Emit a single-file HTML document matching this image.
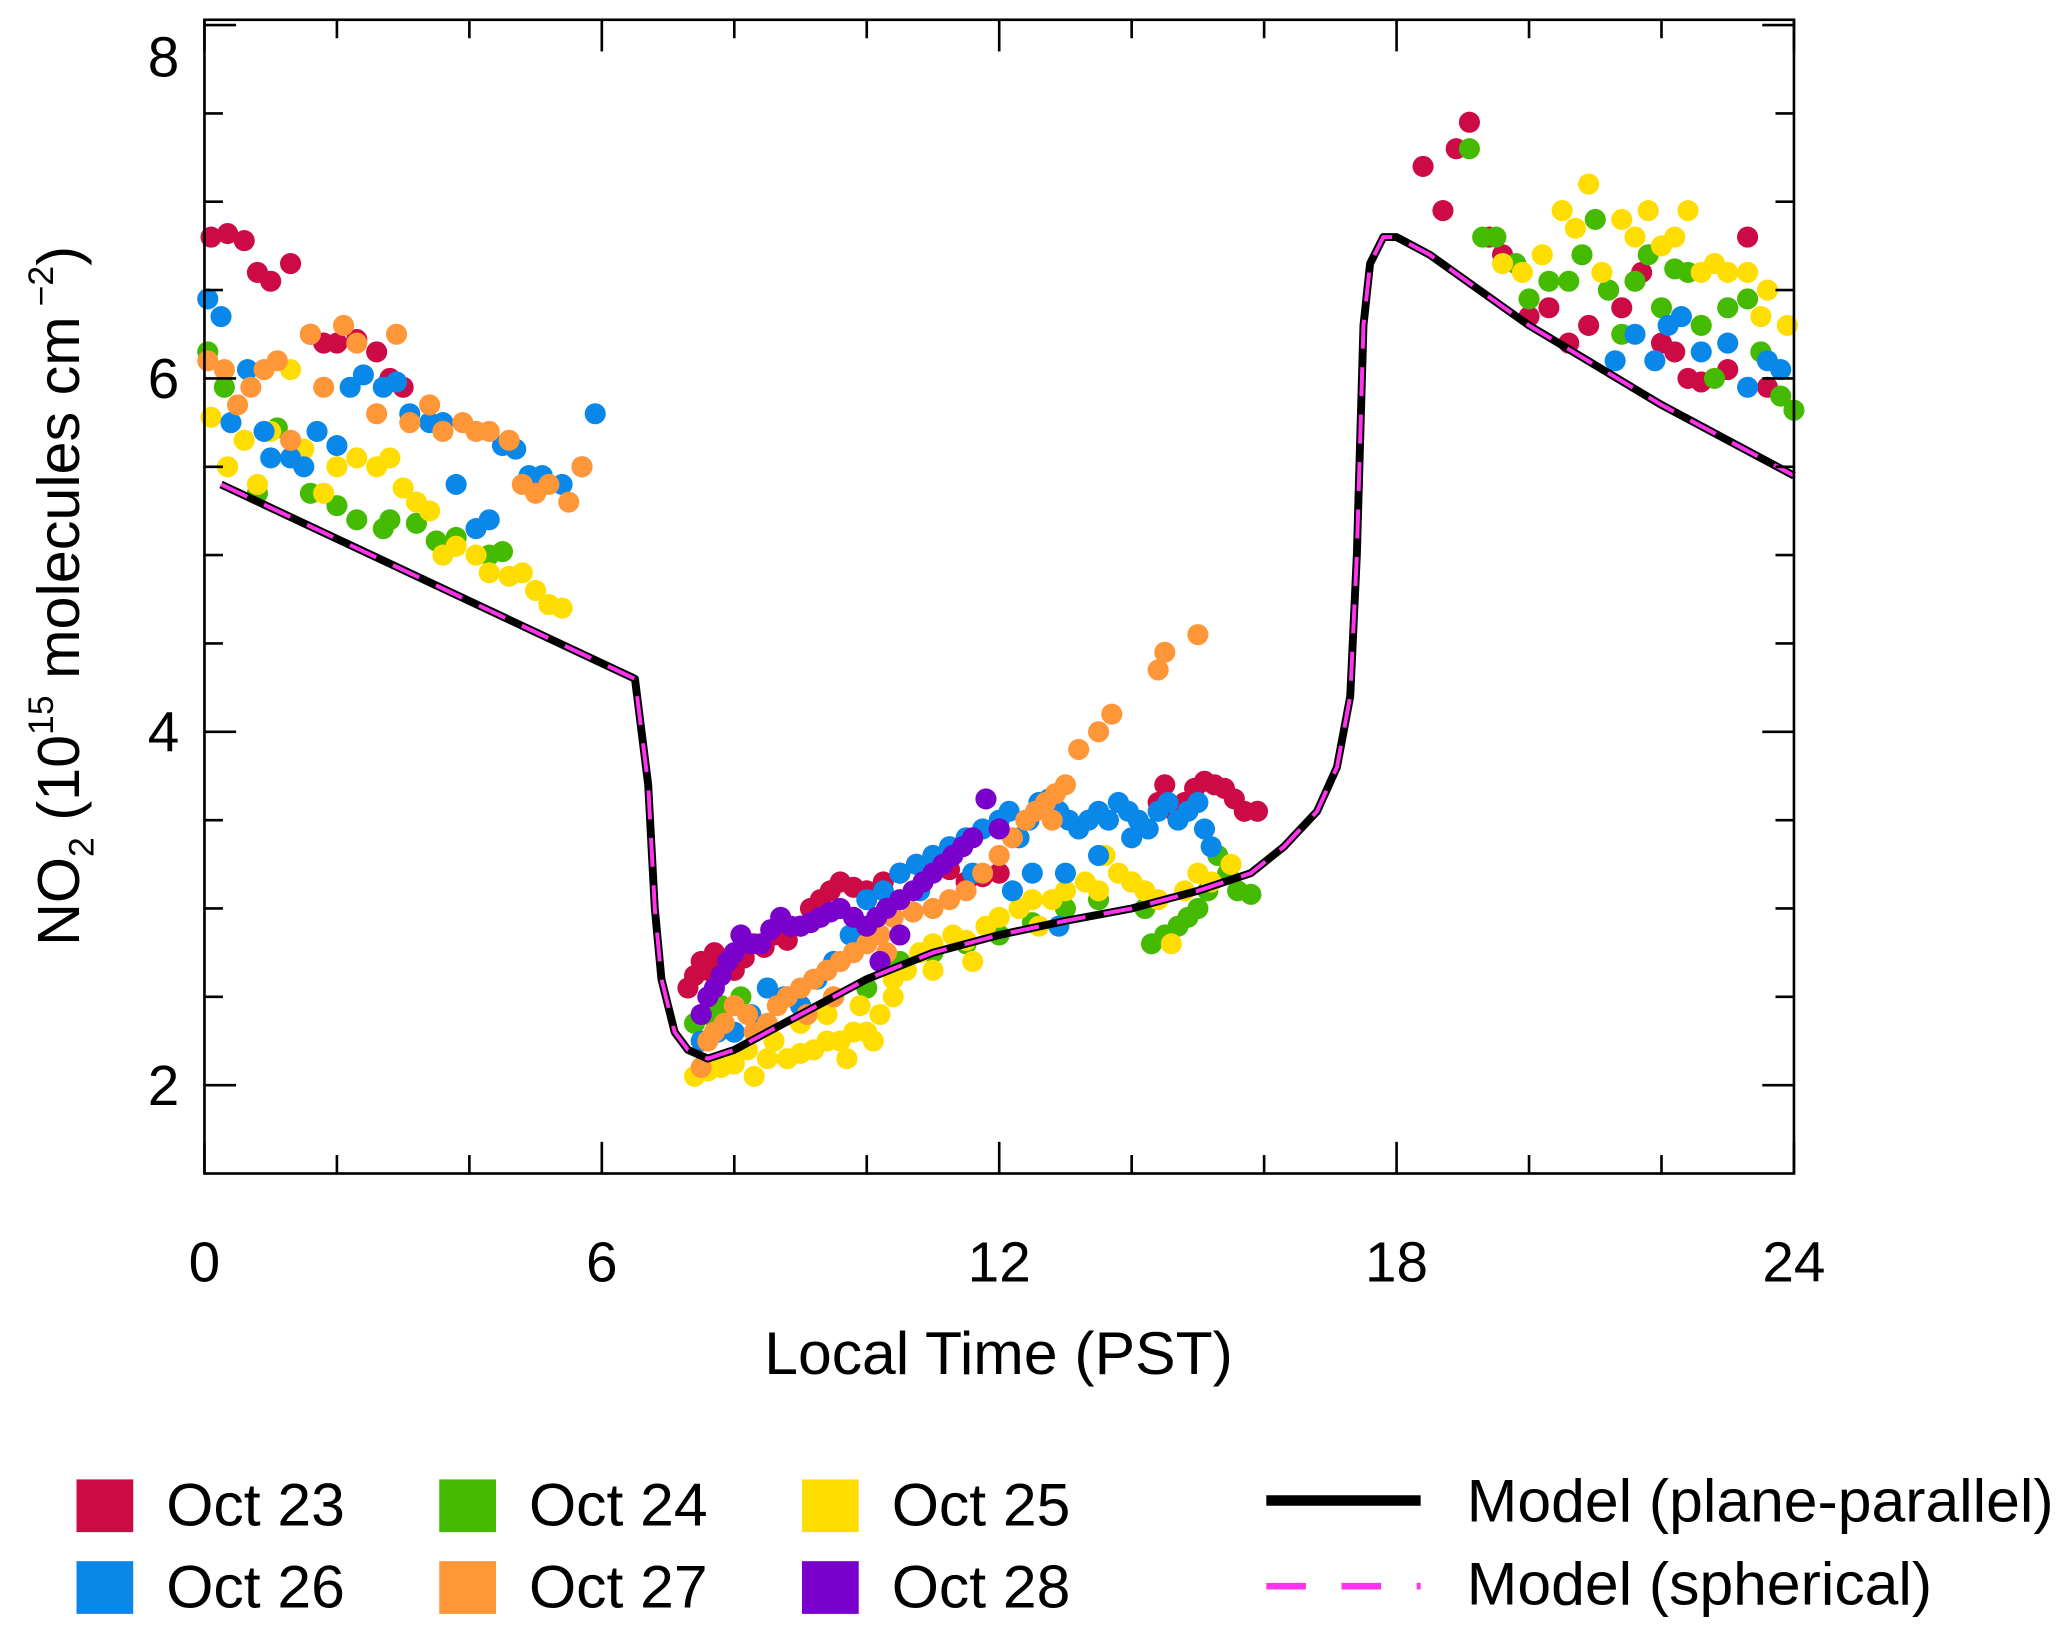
<!DOCTYPE html>
<html><head><meta charset="utf-8"><style>
html,body{margin:0;padding:0;background:#fff}
svg{display:block;font-family:"Liberation Sans",sans-serif}
</style></head><body>
<svg id="chart" width="2067" height="1635" viewBox="0 0 1567 1240" preserveAspectRatio="none" xmlns="http://www.w3.org/2000/svg">
<g id="points"></g>
<g id="lines"></g>
<g id="axes"></g>
<g id="legend"></g>
</svg>
<script>
const xTicks=[0,6,12,18,24];
const yTicks=[2,4,6,8];
const oct23=[[0.1,6.8],[0.35,6.82],[0.6,6.78],[0.8,6.6],[1.0,6.55],[1.3,6.65],[1.6,6.25],[1.8,6.2],[2.0,6.2],[2.3,6.22],[2.6,6.15],[2.8,6.0],[3.0,5.95],[7.3,2.55],[7.4,2.62],[7.5,2.7],[7.6,2.65],[7.7,2.75],[7.85,2.7],[8.0,2.65],[8.15,2.72],[8.3,2.8],[8.45,2.78],[8.6,2.85],[8.8,2.82],[9.0,2.9],[9.15,3.0],[9.3,3.05],[9.45,3.1],[9.6,3.15],[9.8,3.12],[10.0,3.1],[10.25,3.15],[10.5,3.2],[10.75,3.25],[11,3.3],[11.25,3.22],[11.5,3.15],[11.75,3.18],[12,3.2],[14.4,3.6],[14.5,3.7],[14.65,3.55],[14.8,3.6],[14.95,3.68],[15.1,3.72],[15.25,3.7],[15.4,3.68],[15.55,3.62],[15.7,3.55],[15.9,3.55],[18.4,7.2],[18.7,6.95],[18.9,7.3],[19.1,7.45],[19.4,6.8],[19.6,6.7],[20,6.35],[20.3,6.4],[20.6,6.2],[20.9,6.3],[21.2,6.5],[21.4,6.4],[21.7,6.6],[22.0,6.2],[22.2,6.15],[22.4,6.0],[22.6,5.98],[23,6.05],[23.3,6.8],[23.6,5.95]];
const oct24=[[0.05,6.15],[0.3,5.95],[0.8,5.35],[1.1,5.72],[1.6,5.35],[2.0,5.28],[2.3,5.2],[2.7,5.15],[2.8,5.2],[3.2,5.18],[3.5,5.08],[3.8,5.1],[4.3,5.0],[4.5,5.02],[7.4,2.35],[7.6,2.4],[7.8,2.45],[8.1,2.5],[8.5,2.55],[8.8,2.5],[9.0,2.45],[9.5,2.5],[10,2.55],[10.5,2.7],[11,2.75],[11.5,2.8],[12,2.85],[12.5,2.92],[13,3.0],[13.5,3.05],[14,3.15],[14.2,3.0],[14.3,2.8],[14.5,2.85],[14.7,2.9],[14.85,2.95],[15,3.0],[15.15,3.1],[15.3,3.3],[15.45,3.2],[15.6,3.1],[15.8,3.08],[19.1,7.3],[19.3,6.8],[19.5,6.8],[19.8,6.65],[20,6.45],[20.3,6.55],[20.6,6.55],[20.8,6.7],[21,6.9],[21.2,6.5],[21.4,6.25],[21.6,6.55],[21.8,6.7],[22,6.4],[22.2,6.62],[22.4,6.6],[22.6,6.3],[22.8,6.0],[23,6.4],[23.3,6.45],[23.5,6.15],[23.8,5.9],[24,5.82]];
const oct25=[[0.1,5.78],[0.35,5.5],[0.6,5.65],[0.8,5.4],[1.0,5.7],[1.3,6.05],[1.5,5.6],[1.8,5.35],[2.0,5.5],[2.3,5.55],[2.6,5.5],[2.8,5.55],[3.0,5.38],[3.2,5.3],[3.4,5.25],[3.6,5.0],[3.8,5.05],[4.1,5.0],[4.3,4.9],[4.6,4.88],[4.8,4.9],[5.0,4.8],[5.2,4.72],[5.4,4.7],[7.4,2.05],[7.6,2.08],[7.8,2.1],[8.0,2.12],[8.3,2.05],[8.5,2.15],[8.8,2.15],[9.0,2.18],[9.2,2.2],[9.4,2.25],[9.6,2.25],[9.8,2.3],[10,2.3],[10.2,2.4],[10.4,2.6],[10.6,2.65],[10.8,2.75],[11.0,2.8],[11.3,2.85],[11.5,2.82],[11.8,2.9],[12.0,2.95],[12.3,3.0],[12.5,3.05],[12.8,3.05],[13.0,3.1],[13.3,3.15],[13.5,3.1],[13.8,3.2],[14.0,3.15],[14.2,3.1],[14.4,3.05],[14.6,2.8],[14.8,3.1],[15,3.2],[15.2,3.15],[15.5,3.25],[8.6,2.25],[9,2.35],[9.4,2.4],[9.9,2.45],[10.4,2.5],[11,2.65],[11.6,2.7],[12.6,2.9],[13.6,3.3],[8.2,2.2],[9.7,2.15],[10.1,2.25],[19.6,6.65],[19.9,6.6],[20.2,6.7],[20.5,6.95],[20.7,6.85],[20.9,7.1],[21.1,6.6],[21.4,6.9],[21.6,6.8],[21.8,6.95],[22.0,6.75],[22.2,6.8],[22.4,6.95],[22.6,6.6],[22.8,6.65],[23,6.6],[23.3,6.6],[23.6,6.5],[23.9,6.3],[23.5,6.35]];
const oct26=[[0.05,6.45],[0.25,6.35],[0.4,5.75],[0.65,6.05],[0.9,5.7],[1.0,5.55],[1.3,5.55],[1.5,5.5],[1.7,5.7],[2.0,5.62],[2.2,5.95],[2.4,6.02],[2.7,5.95],[2.9,5.98],[3.1,5.8],[3.4,5.75],[3.6,5.75],[3.8,5.4],[4.1,5.15],[4.3,5.2],[4.5,5.62],[4.7,5.6],[4.9,5.45],[5.1,5.45],[5.4,5.4],[5.7,5.5],[5.9,5.8],[7.5,2.25],[7.75,2.3],[8,2.3],[8.25,2.4],[8.5,2.55],[8.75,2.5],[9,2.45],[9.25,2.6],[9.5,2.7],[9.75,2.85],[10,3.05],[10.25,3.1],[10.5,3.2],[10.75,3.25],[11,3.3],[11.25,3.35],[11.5,3.4],[11.75,3.45],[12,3.5],[12.15,3.55],[12.3,3.4],[12.45,3.5],[12.6,3.6],[12.75,3.62],[12.9,3.55],[13.05,3.5],[13.2,3.45],[13.35,3.5],[13.5,3.55],[13.65,3.5],[13.8,3.6],[13.95,3.55],[14.1,3.5],[14.25,3.45],[14.4,3.55],[14.55,3.6],[14.7,3.5],[14.85,3.55],[15,3.6],[15.1,3.45],[15.2,3.35],[12.2,3.1],[12.5,3.2],[13,3.2],[13.5,3.3],[14,3.4],[12.9,2.9],[11.6,3.2],[10.8,3.1],[21.3,6.1],[21.6,6.25],[21.9,6.1],[22.1,6.3],[22.3,6.35],[22.6,6.15],[23,6.2],[23.3,5.95],[23.6,6.1],[23.8,6.05]];
const oct27=[[0.05,6.1],[0.3,6.05],[0.5,5.85],[0.7,5.95],[0.9,6.05],[1.1,6.1],[1.3,5.65],[1.6,6.25],[1.8,5.95],[2.1,6.3],[2.3,6.2],[2.6,5.8],[2.9,6.25],[3.1,5.75],[3.4,5.85],[3.6,5.7],[3.9,5.75],[4.1,5.7],[4.3,5.7],[4.6,5.65],[4.8,5.4],[5.0,5.35],[5.2,5.4],[5.5,5.3],[5.7,5.5],[7.5,2.1],[7.6,2.25],[7.7,2.3],[7.85,2.35],[8,2.45],[8.2,2.4],[8.5,2.35],[8.65,2.45],[8.8,2.5],[9.0,2.55],[9.2,2.6],[9.4,2.65],[9.6,2.7],[9.8,2.75],[10,2.8],[10.2,2.85],[10.4,2.95],[10.7,2.98],[11,3.0],[11.25,3.05],[11.5,3.1],[11.75,3.2],[12,3.3],[12.2,3.4],[12.4,3.5],[12.55,3.55],[12.7,3.6],[12.85,3.65],[13,3.7],[13.2,3.9],[13.5,4.0],[13.7,4.1],[14.4,4.35],[14.5,4.45],[15,4.55],[9.5,2.5],[10.3,2.75],[12.8,3.5],[8.3,2.3],[9.1,2.4]];
const oct28=[[7.5,2.4],[7.6,2.5],[7.7,2.55],[7.8,2.62],[7.9,2.7],[8.0,2.75],[8.1,2.85],[8.25,2.8],[8.4,2.8],[8.55,2.88],[8.7,2.95],[8.85,2.9],[9.0,2.9],[9.15,2.92],[9.3,2.95],[9.45,2.98],[9.6,3.0],[9.8,2.95],[10,2.9],[10.15,2.95],[10.3,3.0],[10.5,3.05],[10.7,3.1],[10.85,3.15],[11,3.2],[11.15,3.25],[11.3,3.3],[11.45,3.35],[11.6,3.4],[11.8,3.62],[12,3.45],[10.2,2.7],[10.5,2.85]];
const modelT=[0.25,6.5,6.7,6.8,6.9,7.1,7.3,7.6,8,9,10,11,12,13,14,15,15.8,16.3,16.8,17.1,17.3,17.4,17.5,17.6,17.8,18,18.5,20,22,24];
const modelV=[5.4,4.3,3.7,3.0,2.6,2.3,2.2,2.15,2.2,2.4,2.6,2.75,2.85,2.93,3.0,3.1,3.2,3.35,3.55,3.8,4.2,5.0,6.3,6.65,6.8,6.8,6.7,6.3,5.85,5.45];

const L=155,R=1360,T=15,B=890;
const x=t=>L+(t/24)*(R-L);
const y=v=>823-(v-2)*134;
const NS="http://www.w3.org/2000/svg";
function mk(tag,attrs,parent){const e=document.createElementNS(NS,tag);for(const k in attrs)e.setAttribute(k,attrs[k]);parent.appendChild(e);return e;}
const pts=document.getElementById('points');
const series=[["oct-23",oct23,"#cc0a45"],["oct-24",oct24,"#44bb00"],["oct-25",oct25,"#ffdd00"],["oct-26",oct26,"#0a88ea"],["oct-27",oct27,"#ff9638"],["oct-28",oct28,"#7a00cc"]];
series.forEach(s=>{s[1].forEach(p=>{const c=mk('circle',{cx:x(p[0]),cy:y(p[1]),r:8,fill:s[2]},pts);

});});
const lines=document.getElementById('lines');
const d=modelT.map((t,i)=>(i?'L':'M')+x(t)+' '+y(modelV[i])).join(' ');
const l1=mk('path',{d:d,fill:'none',stroke:'#000','stroke-width':6,'stroke-linejoin':'round'},lines);


const l2=mk('path',{d:d,fill:'none',stroke:'#ff33ee','stroke-width':3,'stroke-dasharray':'22 14'},lines);


const ax=document.getElementById('axes');
const fr=mk('rect',{x:L,y:T,width:R-L,height:B-T,fill:'none',stroke:'#000','stroke-width':2},ax);


for(let t=0;t<=24;t+=2){const len=t%6===0?24:14;mk('line',{x1:x(t),x2:x(t),y1:B,y2:B-len,stroke:'#000','stroke-width':2},ax);mk('line',{x1:x(t),x2:x(t),y1:T,y2:T+len,stroke:'#000','stroke-width':2},ax);}
for(let v=2;v<=8;v+=0.5){const len=v%2===0?24:14;mk('line',{x1:L,x2:L+len,y1:y(v),y2:y(v),stroke:'#000','stroke-width':2},ax);mk('line',{x1:R,x2:R-len,y1:y(v),y2:y(v),stroke:'#000','stroke-width':2},ax);}
xTicks.forEach(t=>{const e=mk('text',{x:x(t),y:972,'font-size':43,'text-anchor':'middle'},ax);e.textContent=t;

});
yTicks.forEach(v=>{const e=mk('text',{x:124,y:Math.max(y(v)+15,58),'font-size':43,'text-anchor':'middle'},ax);e.textContent=v;

});
const xt=mk('text',{x:757,y:1042,'font-size':46,'text-anchor':'middle'},ax);xt.textContent='Local Time (PST)';


const yt=mk('text',{transform:'translate(60,452) rotate(-90)','font-size':45,'text-anchor':'middle'},ax);
yt.innerHTML='NO<tspan font-size="27" dy="11">2</tspan><tspan dy="-11"> (10</tspan><tspan font-size="27" dy="-20">15</tspan><tspan dy="20"> molecules cm</tspan><tspan font-size="27" dy="-20"> −2</tspan><tspan dy="20">)</tspan>';


const lg=document.getElementById('legend');
const entries=[["Oct 23","#cc0a45",58,1122],["Oct 24","#44bb00",333,1122],["Oct 25","#ffdd00",608,1122],["Oct 26","#0a88ea",58,1184],["Oct 27","#ff9638",333,1184],["Oct 28","#7a00cc",608,1184]];
entries.forEach(e=>{const r=mk('rect',{x:e[2],y:e[3],width:43,height:40,fill:e[1]},lg);


const t=mk('text',{x:e[2]+68,y:e[3]+35,'font-size':46},lg);t.textContent=e[0];

});
mk('line',{x1:960,x2:1077,y1:1138,y2:1138,stroke:'#000','stroke-width':8},lg);
mk('line',{x1:960,x2:1077,y1:1203,y2:1203,stroke:'#ff33ee','stroke-width':5,'stroke-dasharray':'30 27'},lg);
const m1=mk('text',{x:1112,y:1154,'font-size':46},lg);m1.textContent='Model (plane-parallel)';


const m2=mk('text',{x:1112,y:1217,'font-size':46},lg);m2.textContent='Model (spherical)';


</script>
</body></html>
